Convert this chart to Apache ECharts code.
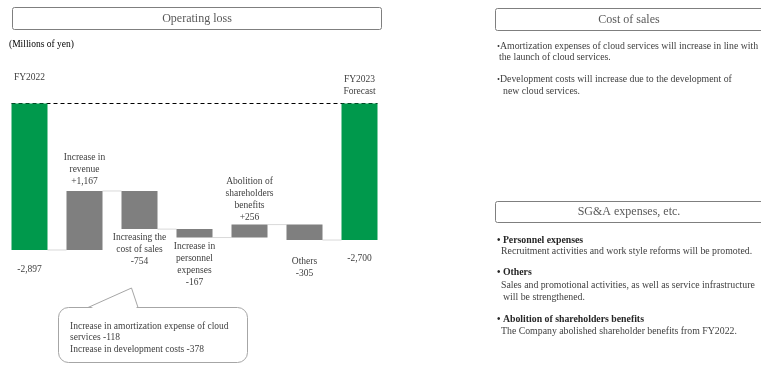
<!DOCTYPE html>
<html><head><meta charset="utf-8">
<script src="https://cdn.jsdelivr.net/npm/echarts@6/dist/echarts.min.js"></script>
<style>html,body{margin:0;padding:0;background:#fff}#c{width:761px;height:365px}</style>
</head><body><div id="c"></div>
<script>
// ---- data ----
var categories = ['FY2022', 'Increase in\nrevenue', 'Increasing the\ncost of sales', 'Increase in\npersonnel\nexpenses', 'Abolition of\nshareholders\nbenefits', 'Others', 'FY2023\nForecast'];
var startValue = -2897;
var deltas = [1167, -754, -167, 256, -305];
var endValue = -2700;
var yTicks = { min: -3000, max: 0 };

var SERIF = '"Liberation Serif","Times New Roman",serif';
var TXT = '#404040';
function fmt(v, sign) {
  var s = Math.abs(v).toLocaleString('en-US');
  if (v < 0) return '-' + s;
  return (sign ? '+' : '') + s;
}

// build waterfall from data
var baseData = [], visData = [], levels = [];
baseData.push(0); visData.push(startValue); levels.push(startValue);
var cur = startValue;
deltas.forEach(function (d) {
  var prev = cur; cur = prev + d;
  var hi = Math.max(prev, cur), lo = Math.min(prev, cur);
  baseData.push(hi); visData.push(lo - hi); levels.push(cur);
});
baseData.push(0); visData.push(endValue);

var labelPos = ['bottom', 'top', 'bottom', 'bottom', 'top', 'bottom', 'bottom'];
var labelDist = [14, 3, 2, 3, 1, 15, 12];

var visItems = visData.map(function (v, i) {
  var isTotal = (i === 0 || i === categories.length - 1);
  var txt;
  if (isTotal) txt = fmt(i === 0 ? startValue : endValue, false);
  else txt = categories[i] + '\n' + fmt(deltas[i - 1], true);
  return {
    value: v,
    itemStyle: { color: isTotal ? '#00994c' : '#7f7f7f' },
    label: { show: true, position: labelPos[i], distance: labelDist[i], formatter: txt }
  };
});

var F9 = '9.8px ' + SERIF;
function t(x, y, s, font, fill) {
  return { type: 'text', x: x, y: y, style: { text: s, font: font || F9, fill: fill || TXT, verticalAlign: 'middle' } };
}

var chart = echarts.init(document.getElementById('c'), null, { renderer: 'canvas' });
var option = {
  animation: false,
  backgroundColor: '#fff',
  grid: { left: 2, right: 374, top: 103.5, bottom: 109.8 },
  xAxis: {
    type: 'category', data: categories, position: 'top',
    axisLine: { show: false }, axisTick: { show: false },
    axisLabel: {
      interval: 0, margin: 6, fontFamily: SERIF, fontSize: 9.5, color: TXT, lineHeight: 12,
      formatter: function (v, i) {
        if (i === 0) return '{a|' + v + '}';
        if (i === categories.length - 1) return v;
        return '';
      },
      rich: { a: { fontFamily: SERIF, fontSize: 9.5, color: TXT, padding: [0, 0, 29, 0] } }
    }
  },
  yAxis: { type: 'value', min: yTicks.min, max: yTicks.max, show: false, splitLine: { show: false } },
  series: [
    { type: 'bar', stack: 'w', data: baseData, barWidth: 36, itemStyle: { color: 'transparent' }, silent: true },
    {
      type: 'bar', stack: 'w', data: visItems, barWidth: 36,
      label: { fontFamily: SERIF, fontSize: 9.5, lineHeight: 12, color: TXT, align: 'center' }
    },
    {
      type: 'custom', data: levels.map(function (l, i) { return [i, l]; }),
      renderItem: function (params, api) {
        var p = api.coord([api.value(0), api.value(1)]);
        var band = api.size([1, 0])[0];
        return { type: 'line', shape: { x1: p[0] + 18, y1: p[1], x2: p[0] + band - 18, y2: p[1] },
          style: { stroke: '#d9d9d9', lineWidth: 1 } };
      }
    },
    {
      type: 'custom', data: [[0, 0]],
      renderItem: function (params, api) {
        var p0 = api.coord([0, 0]), p1 = api.coord([categories.length - 1, 0]);
        return { type: 'line', shape: { x1: p0[0] - 18, y1: p0[1], x2: p1[0] + 18, y2: p0[1] },
          style: { stroke: '#000', lineWidth: 1, lineDash: [4, 3] } };
      }
    }
  ],
  graphic: [
    { type: 'rect', shape: { x: 12.5, y: 7.5, width: 369, height: 22, r: 2 }, style: { fill: '#fff', stroke: '#7f7f7f', lineWidth: 1 } },
    { type: 'text', x: 197, y: 18.5, style: { text: 'Operating loss', font: '12px ' + SERIF, fill: '#595959', align: 'center', verticalAlign: 'middle' } },
    t(9, 44, '(Millions of yen)', '9.5px ' + SERIF, '#000'),

    { type: 'rect', shape: { x: 495.5, y: 8.5, width: 280, height: 22, r: 2 }, style: { fill: '#fff', stroke: '#7f7f7f', lineWidth: 1 } },
    { type: 'text', x: 629, y: 19.5, style: { text: 'Cost of sales', font: '12px ' + SERIF, fill: '#595959', align: 'center', verticalAlign: 'middle' } },
    t(494, 46, '・', '9px "Noto Sans CJK JP"'),
    t(500, 46, 'Amortization expenses of cloud services will increase in line with'),
    t(499, 57, 'the launch of cloud services.'),
    t(494, 79, '・', '9px "Noto Sans CJK JP"'),
    t(500, 79, 'Development costs will increase due to the development of'),
    t(503, 91, 'new cloud services.'),

    { type: 'rect', shape: { x: 495.5, y: 201.5, width: 280, height: 21, r: 2 }, style: { fill: '#fff', stroke: '#7f7f7f', lineWidth: 1 } },
    { type: 'text', x: 629, y: 212, style: { text: 'SG&A expenses, etc.', font: '12px ' + SERIF, fill: '#595959', align: 'center', verticalAlign: 'middle' } },
    t(497, 240, '• Personnel expenses', 'bold 9.8px ' + SERIF, '#262626'),
    t(501, 251, 'Recruitment activities and work style reforms will be promoted.'),
    t(497, 272, '• Others', 'bold 9.8px ' + SERIF, '#262626'),
    t(501, 285, 'Sales and promotional activities, as well as service infrastructure'),
    t(503, 297, 'will be strengthened.'),
    t(497, 319, '• Abolition of shareholders benefits', 'bold 9.8px ' + SERIF, '#262626'),
    t(501, 331, 'The Company abolished shareholder benefits from FY2022.'),

    { type: 'rect', shape: { x: 58.5, y: 307.5, width: 189, height: 55, r: 10 }, style: { fill: '#fff', stroke: '#a6a6a6', lineWidth: 1 } },
    { type: 'polygon', shape: { points: [[89, 309], [131, 289], [137, 309]] }, style: { fill: '#fff', stroke: null } },
    { type: 'polyline', shape: { points: [[88, 307.5], [131.5, 288], [138, 307.5]] }, style: { fill: null, stroke: '#a6a6a6', lineWidth: 1 } },
    t(70, 326, 'Increase in amortization expense of cloud', '9.5px ' + SERIF),
    t(70, 337, 'services -118', '9.5px ' + SERIF),
    t(70, 349, 'Increase in development costs -378', '9.5px ' + SERIF)
  ]
};
chart.setOption(option);
</script></body></html>
